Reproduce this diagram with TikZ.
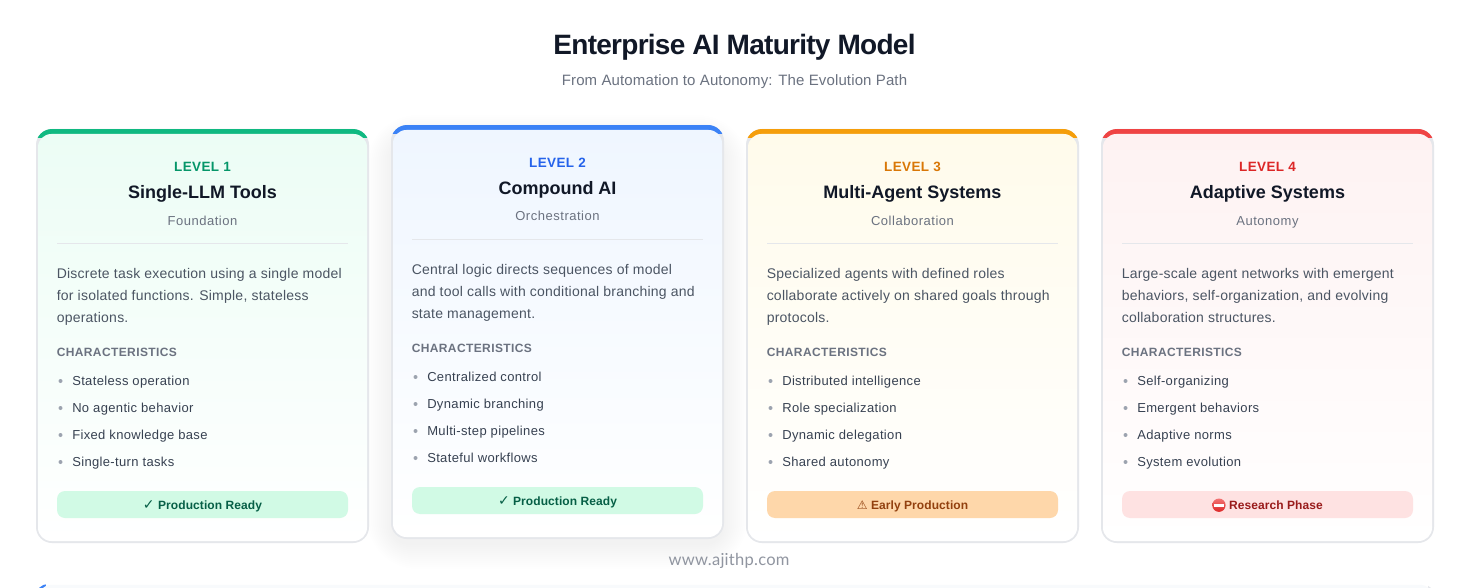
\documentclass[tikz,border=0pt]{standalone}
\usepackage{fontspec}
\setmainfont{Liberation Sans}
\newfontfamily\symfont{DejaVu Sans}
\newfontfamily\markfont{Lato}
\usetikzlibrary{calc}
\definecolor{inkdark}{HTML}{111827}
\definecolor{inkmuted}{HTML}{6B7280}
\definecolor{inkbody}{HTML}{4B5563}
\definecolor{inkitem}{HTML}{374151}
\definecolor{cardedge}{HTML}{E5E7EB}
\definecolor{dotgray}{HTML}{9CA3AF}
\definecolor{panelface}{HTML}{F8FAFC}
\definecolor{lvlAline}{HTML}{10B981}
\definecolor{lvlAtext}{HTML}{059669}
\definecolor{lvlAtint}{HTML}{ECFDF5}
\definecolor{lvlBline}{HTML}{3B82F6}
\definecolor{lvlBtext}{HTML}{2563EB}
\definecolor{lvlBtint}{HTML}{EFF6FF}
\definecolor{lvlCline}{HTML}{F59E0B}
\definecolor{lvlCtext}{HTML}{D97706}
\definecolor{lvlCtint}{HTML}{FFFBEB}
\definecolor{lvlDline}{HTML}{EF4444}
\definecolor{lvlDtext}{HTML}{DC2626}
\definecolor{lvlDtint}{HTML}{FEF2F2}
\definecolor{badgegreen}{HTML}{D1FAE5}
\definecolor{badgegreenink}{HTML}{065F46}
\definecolor{badgeamber}{HTML}{FED7AA}
\definecolor{badgeamberink}{HTML}{92400E}
\definecolor{badgered}{HTML}{FEE2E2}
\definecolor{badgeredink}{HTML}{991B1B}
\tikzset{
  lvltext/.style={anchor=base, inner sep=0pt, font=\fontsize{10.1}{12}\selectfont\bfseries\addfontfeature{LetterSpace=3}},
  cardtitle/.style={anchor=base, inner sep=0pt, text=inkdark, font=\fontsize{13.5}{16}\selectfont\bfseries},
  cardsubtitle/.style={anchor=base, inner sep=0pt, text=inkmuted, font=\fontsize{9.75}{12}\selectfont\addfontfeature{LetterSpace=4}},
  bodyline/.style={anchor=base west, inner sep=0pt, text=inkbody, font=\fontsize{10.5}{13}\selectfont\addfontfeature{LetterSpace=1.7}},
  charhead/.style={anchor=base west, inner sep=0pt, text=inkmuted, font=\fontsize{9}{11}\selectfont\bfseries\addfontfeature{LetterSpace=3.3}},
  itemline/.style={anchor=base west, inner sep=0pt, text=inkitem, font=\fontsize{9.75}{12}\selectfont\addfontfeature{LetterSpace=2.7}},
  badgetext/.style={anchor=base, inner sep=0pt, font=\fontsize{9}{11}\selectfont\bfseries\addfontfeature{LetterSpace=0.7}},
}
% no-entry sign of the last badge
\newcommand{\noentrysign}{\tikz[baseline=-0.6ex]{\shade[top color=lvlDline!75, bottom color=lvlDtext] (0,0) circle (5pt); \fill[white] (-3.7pt,-1.2pt) rectangle (3.7pt,1.2pt);}}

\begin{document}
\begin{tikzpicture}[x=0.75pt, y=-0.75pt]
  \useasboundingbox (0,0) rectangle (1471,588);
  \clip (0,0) rectangle (1471,588);
  \fill[white] (0,0) rectangle (1471,588);

  % heading
  \node[anchor=base, inner sep=0pt, text=inkdark, font=\fontsize{21}{25}\selectfont\bfseries\addfontfeature{LetterSpace=-2.6}] (heading) at (734.5,55) {Enterprise AI Maturity Model};
  \node[anchor=base, inner sep=0pt, text=inkmuted, font=\fontsize{11.25}{14}\selectfont\addfontfeature{LetterSpace=0.9}] (subheading) at (734.5,86) {From Automation to Autonomy: The Evolution Path};

  % soft shadow behind the raised card
  \foreach \grow in {24,22,...,0}
    \fill[black, opacity=0.0035, rounded corners=14+\grow] (391-\grow,139-\grow) rectangle (724+\grow,545+\grow);

  % the next panel, cut off by the page
  \begin{scope}
    \clip[rounded corners=9] (36,584) rectangle (1434,640);
    \fill[lvlBline] (36,584) rectangle (46,640);
    \fill[cardedge] (1428,584) rectangle (1434,640);
    \fill[panelface, rounded corners=9] (39,584.8) rectangle (1432.5,640);
  \end{scope}

  % the four level cards
  \foreach \cardx/\cardy/\tone/\lvl/\ttl/\cardsub/\lineA/\lineB/\lineC/\itemA/\itemB/\itemC/\itemD/\badgefill/\badgeink/\badgelabel in {
    36/129/A/{LEVEL 1}/{Single-LLM Tools}/Foundation/{Discrete task execution using a single model}/{for isolated functions. Simple, stateless}/{operations.}/{Stateless operation}/{No agentic behavior}/{Fixed knowledge base}/{Single-turn tasks}/badgegreen/badgegreenink/{{\symfont\fontsize{10.5}{11}\selectfont ✓} Production Ready},
    391/125/B/{LEVEL 2}/{Compound AI}/Orchestration/{Central logic directs sequences of model}/{and tool calls with conditional branching and}/{state management.}/{Centralized control}/{Dynamic branching}/{Multi-step pipelines}/{Stateful workflows}/badgegreen/badgegreenink/{{\symfont\fontsize{10.5}{11}\selectfont ✓} Production Ready},
    746/129/C/{LEVEL 3}/{Multi-Agent Systems}/Collaboration/{Specialized agents with defined roles}/{collaborate actively on shared goals through}/{protocols.}/{Distributed intelligence}/{Role specialization}/{Dynamic delegation}/{Shared autonomy}/badgeamber/badgeamberink/{{\symfont\mdseries ⚠} Early Production},
    1101/129/D/{LEVEL 4}/{Adaptive Systems}/Autonomy/{Large-scale agent networks with emergent}/{behaviors, self-organization, and evolving}/{collaboration structures.}/{Self-organizing}/{Emergent behaviors}/{Adaptive norms}/{System evolution}/badgered/badgeredink/{\noentrysign\ Research Phase}%
  } {
    \begin{scope}[shift={(\cardx,\cardy)}]
      % shell, top stripe, then the tinted face
      \fill[cardedge, rounded corners=12] (0,0) rectangle (333,414);
      \begin{scope}
        \clip[rounded corners=12] (0,0) rectangle (333,414);
        \fill[lvl\tone line] (0,0) rectangle (333,9);
      \end{scope}
      \shade[rounded corners=10, top color=lvl\tone tint, bottom color=white] (2,5) rectangle (331,412);

      \node[lvltext, text=lvl\tone text] (level\tone) at (166.5,43) {\lvl};
      \node[cardtitle] (title\tone) at (166.5,70) {\ttl};
      \node[cardsubtitle] (sub\tone) at (166.5,96) {\cardsub};
      \draw[cardedge, line width=0.75pt] (21,114.5) -- (312,114.5);

      \node[bodyline] (descA\tone) at (20.5,149) {\lineA};
      \node[bodyline] (descB\tone) at (20.5,171) {\lineB};
      \node[bodyline] (descC\tone) at (20.5,193) {\lineC};

      \node[charhead] (chars\tone) at (20.5,227) {CHARACTERISTICS};

      \fill[dotgray] (24.5,252) circle (2);
      \node[itemline] (itemA\tone) at (36,256) {\itemA};
      \fill[dotgray] (24.5,279) circle (2);
      \node[itemline] (itemB\tone) at (36,283) {\itemB};
      \fill[dotgray] (24.5,306) circle (2);
      \node[itemline] (itemC\tone) at (36,310) {\itemC};
      \fill[dotgray] (24.5,333) circle (2);
      \node[itemline] (itemD\tone) at (36,337) {\itemD};

      \fill[\badgefill, rounded corners=6] (21,362) rectangle (312,389);
      \node[badgetext, text=\badgeink] (badge\tone) at (166.5,380) {\badgelabel};
    \end{scope}
  }

  % site mark
  \node[anchor=base, inner sep=0pt, text=inkmuted!75, font=\markfont\fontsize{12.4}{15}\selectfont\addfontfeature{LetterSpace=1.5}] (sitemark) at (729,565) {www.ajithp.com};
\end{tikzpicture}
\end{document}
